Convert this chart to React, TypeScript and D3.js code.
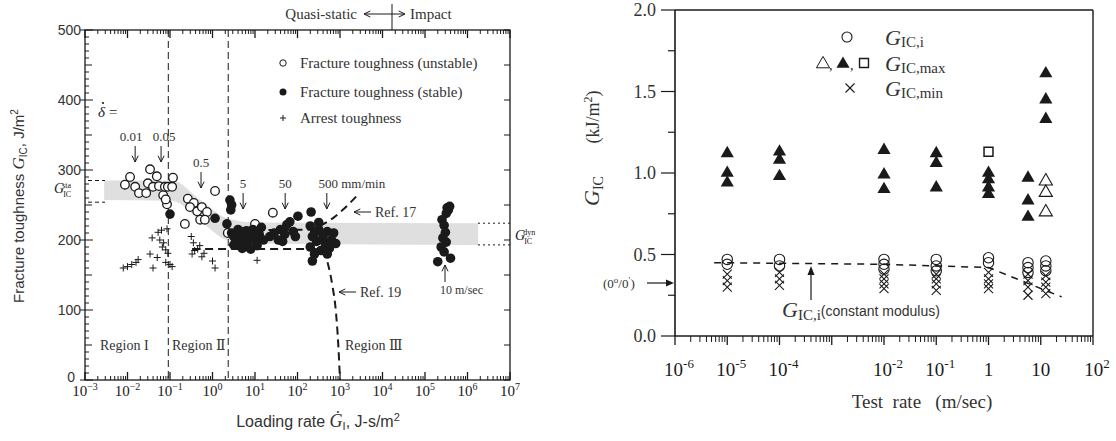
import React from 'react';
import * as d3 from 'd3';

// ---------------- Left panel data ----------------
// loading rate given as log10 exponent, G_IC in J/m^2
const leftRateExponents = [-3, -2, -1, 0, 1, 2, 3, 4, 5, 6, 7];
const leftGTicks = [0, 100, 200, 300, 400, 500];

const unstablePoints: [number, number][] = [
  [-2.06, 279], [-1.94, 290], [-1.82, 276], [-1.73, 267], [-1.56, 267], [-1.52, 281],
  [-1.47, 301], [-1.4, 276], [-1.31, 291], [-1.26, 277], [-1.16, 264], [-1.12, 276],
  [-1.07, 251], [-1.05, 276], [-0.95, 276], [-0.93, 289], [-1.1, 258], [-0.58, 259],
  [-0.44, 253], [-0.53, 247], [-0.36, 241], [-0.25, 247], [-0.13, 240], [-0.29, 229],
  [-0.18, 229], [-0.65, 223], [0.06, 270], [0.36, 210], [1.0, 223], [1.42, 239],
];

const stablePoints: [number, number][] = [
  [-1.0, 237], [0.06, 231], [0.34, 223], [0.41, 257], [0.45, 250], [0.43, 243],
  [0.45, 210], [0.5, 205], [0.55, 198], [0.6, 208], [0.65, 194], [0.7, 203], [0.75, 212],
  [0.8, 198], [0.85, 190], [0.9, 205], [0.95, 215], [1.0, 200], [1.05, 192], [1.1, 208],
  [1.15, 218], [0.6, 215], [0.7, 188], [0.8, 213], [0.5, 193], [1.2, 200], [0.9, 187],
  [1.0, 212], [1.35, 205], [1.45, 210], [1.55, 200], [1.6, 215], [1.7, 208], [1.75, 222],
  [1.82, 226], [1.9, 212], [2.01, 234], [1.95, 205], [1.65, 198],
  [2.3, 220], [2.32, 240], [2.35, 205], [2.3, 190], [2.4, 210], [2.45, 198], [2.5, 215],
  [2.55, 185], [2.6, 205], [2.65, 195], [2.7, 212], [2.75, 188], [2.8, 200], [2.85, 210],
  [2.4, 180], [2.9, 195], [2.5, 225], [2.7, 180], [2.35, 170],
  [5.55, 243], [5.5, 238], [5.4, 229], [5.45, 221], [5.48, 211], [5.42, 203], [5.38, 190],
  [5.45, 183], [5.3, 169], [5.6, 174], [5.52, 246], [5.5, 197], [5.58, 248],
];

const arrestPoints: [number, number][] = [
  [-2.1, 160], [-2.0, 162], [-1.9, 165], [-1.8, 168], [-1.75, 172], [-1.47, 180],
  [-1.42, 203], [-1.4, 160], [-1.28, 211], [-1.2, 214], [-1.24, 200], [-1.15, 196],
  [-1.18, 190], [-1.1, 186], [-1.05, 181], [-1.3, 175], [-1.1, 168], [-1.0, 165],
  [-0.95, 162], [-1.07, 216], [-0.5, 205], [-0.45, 196], [-0.3, 192], [-0.48, 180],
  [-0.42, 185], [-0.35, 187], [-0.2, 181], [-0.25, 176], [0.0, 170], [0.06, 160], [1.05, 171],
];

const bandExp = [-2.55, -0.95, -0.3, 0.35, 1.0, 6.25];
const bandLow = [257, 256, 228, 200, 195, 193];
const bandHigh = [285, 285, 258, 231, 225, 224];

const ref19Curve: [number, number][] = [
  [-0.48, 187], [2.4, 187], [2.6, 183], [2.72, 165], [2.82, 135], [2.9, 100], [2.96, 50], [3.0, 0],
];
const ref17Curve: [number, number][] = [
  [0.4, 214], [2.3, 215], [2.55, 221], [2.85, 232], [3.1, 245], [3.38, 262],
];
const regionBoundsExp = [-1.04, 0.37];

// crosshead speed markers: label, rate exponent, label row
const rateArrows: { label: string; exp: number; level: number; shift: number }[] = [
  { label: '0.01', exp: -1.82, level: 0, shift: -4 },
  { label: '0.05', exp: -1.21, level: 0, shift: 3 },
  { label: '0.5', exp: -0.27, level: 1, shift: 0 },
  { label: '5', exp: 0.72, level: 2, shift: 0 },
  { label: '50', exp: 1.71, level: 2, shift: 0 },
  { label: '500 mm/min', exp: 2.69, level: 2, shift: 25 },
];

// ---------------- Right panel data ----------------
const rightRateExponents = [-6, -5, -4, -3, -2, -1, 0, 1, 2];
const rightRateLabels = ['10|-6', '10|-5', '10|-4', '', '10|-2', '10|-1', '1', '10', '10|2'];
const rightGTicks = [0, 0.5, 1.0, 1.5, 2.0];

const gicInitPoints: [number, number][] = [
  [1e-5, 0.47], [1e-5, 0.44], [1e-4, 0.47], [1e-4, 0.43],
  [1e-2, 0.47], [1e-2, 0.44], [1e-2, 0.41], [1e-1, 0.47], [1e-1, 0.43], [1e-1, 0.40],
  [1, 0.48], [1, 0.45], [5.7, 0.45], [5.7, 0.42], [5.7, 0.39], [12.5, 0.46], [12.5, 0.43], [12.5, 0.40],
];
const gicMinPoints: [number, number][] = [
  [1e-5, 0.38], [1e-5, 0.34], [1e-5, 0.30], [1e-4, 0.39], [1e-4, 0.35], [1e-4, 0.31],
  [1e-2, 0.38], [1e-2, 0.35], [1e-2, 0.32], [1e-2, 0.29], [1e-1, 0.38], [1e-1, 0.35], [1e-1, 0.32], [1e-1, 0.28],
  [1, 0.39], [1, 0.35], [1, 0.32], [1, 0.29], [5.7, 0.38], [5.7, 0.34], [5.7, 0.30], [5.7, 0.25],
  [12.5, 0.37], [12.5, 0.33], [12.5, 0.30], [12.5, 0.26],
];
const gicMaxFilled: [number, number][] = [
  [1e-5, 1.12], [1e-5, 1.0], [1e-5, 0.94], [1e-4, 1.13], [1e-4, 1.08], [1e-4, 0.98],
  [1e-2, 1.14], [1e-2, 0.99], [1e-2, 0.9], [1e-1, 1.12], [1e-1, 1.06], [1e-1, 0.91],
  [1, 1.0], [1, 0.96], [1, 0.91], [1, 0.87], [5.7, 0.97], [5.7, 0.83], [5.7, 0.73],
  [12.5, 1.61], [12.5, 1.45], [12.5, 1.33],
];
const gicMaxOpen: [number, number][] = [[12.5, 0.95], [12.5, 0.88], [12.5, 0.76]];
const gicMaxSquare: [number, number][] = [[1, 1.13]];
const constModulusLine: [number, number][] = [[10 ** -5.25, 0.45], [1e-2, 0.44], [1, 0.42], [10 ** 1.4, 0.24]];

const INK = '#1a1a1a';
const SERIF = '"Liberation Serif", "DejaVu Serif", serif';
const SANS = '"Liberation Sans", "DejaVu Sans", sans-serif';

function Arrow({ x1, y1, x2, y2, head = 5, w = 1 }: any) {
  const a = Math.atan2(y2 - y1, x2 - x1);
  const h1 = [x2 - head * Math.cos(a - 0.45), y2 - head * Math.sin(a - 0.45)];
  const h2 = [x2 - head * Math.cos(a + 0.45), y2 - head * Math.sin(a + 0.45)];
  return (
    <g stroke={INK} strokeWidth={w} fill="none">
      <line x1={x1} y1={y1} x2={x2} y2={y2} />
      <polyline points={`${h1[0]},${h1[1]} ${x2},${y2} ${h2[0]},${h2[1]}`} />
    </g>
  );
}

function Sup({ x, y, base, sup, size = 15, supSize = 10, anchor = 'middle', font = SERIF }: any) {
  return (
    <text x={x} y={y} textAnchor={anchor} fontFamily={font} fontSize={size} fill={INK}>
      {base}
      {sup !== undefined && sup !== '' && (
        <tspan dy={-size * 0.42} fontSize={supSize}>{sup}</tspan>
      )}
    </text>
  );
}

export default function App() {
  // left scales
  const xL = d3.scaleLog().domain([1e-3, 1e7]).range([85, 510]);
  const yL = d3.scaleLinear().domain([0, 500]).range([380, 30]);
  const px = (e: number) => xL(10 ** e);

  // right scales
  const xR = d3.scaleLog().domain([1e-6, 1e2]).range([675, 1093]);
  const yR = d3.scaleLinear().domain([0, 2]).range([336, 10]);

  const bandData = bandExp.map((e, i) => ({ e, lo: bandLow[i], hi: bandHigh[i] }));
  const bandPath = d3.area<any>().x(d => px(d.e)).y0(d => yL(d.lo)).y1(d => yL(d.hi)).curve(d3.curveMonotoneX)(bandData) || '';
  const curveLine = d3.line<[number, number]>().x(d => px(d[0])).y(d => yL(d[1])).curve(d3.curveMonotoneX);
  const rLine = d3.line<[number, number]>().x(d => xR(d[0])).y(d => yR(d[1]));

  const leftMinor: number[] = [];
  for (let e = -3; e < 7; e++) for (let m = 2; m <= 9; m++) leftMinor.push(m * 10 ** e);
  const rightMinor: number[] = [];
  for (let e = -6; e < 2; e++) for (let m = 2; m <= 9; m++) rightMinor.push(m * 10 ** e);

  const gMinor = d3.range(0, 501, 10);
  const triSym = d3.symbol().type(d3.symbolTriangle).size(75)() || '';
  const sqSym = d3.symbol().type(d3.symbolSquare).size(80)() || '';

  const Xmark = ({ cx, cy, s = 4.5 }: any) => (
    <g stroke={INK} strokeWidth={1.1}>
      <line x1={cx - s} y1={cy - s} x2={cx + s} y2={cy + s} />
      <line x1={cx - s} y1={cy + s} x2={cx + s} y2={cy - s} />
    </g>
  );
  const Plus = ({ cx, cy, s = 3.5 }: any) => (
    <g stroke={INK} strokeWidth={1}>
      <line x1={cx - s} y1={cy} x2={cx + s} y2={cy} />
      <line x1={cx} y1={cy - s} x2={cx} y2={cy + s} />
    </g>
  );

  const x0 = 85, x1 = 510, yTop = 30, yBot = 380;

  return (
    <svg width={1116} height={441} style={{ position: 'absolute', left: 0, top: 0, background: '#fff' }}>
      <rect x={0} y={0} width={1116} height={441} fill="#fff" />

      {/* ================= LEFT PANEL ================= */}
      <path d={bandPath} fill="#d4d4d4" opacity={0.75} />

      {regionBoundsExp.map((e, i) => (
        <line key={i} x1={px(e)} x2={px(e)} y1={yTop} y2={yBot} stroke={INK} strokeWidth={1} strokeDasharray="7,4" />
      ))}

      <path d={curveLine(ref19Curve) || ''} fill="none" stroke={INK} strokeWidth={2} strokeDasharray="8,5" />
      <path d={curveLine(ref17Curve) || ''} fill="none" stroke={INK} strokeWidth={2} strokeDasharray="8,5" />

      {[285, 254].map((g, i) => (
        <line key={'s' + i} x1={88} x2={105} y1={yL(g)} y2={yL(g)} stroke={INK} strokeWidth={1} strokeDasharray="4,3" />
      ))}
      {[224, 193].map((g, i) => (
        <line key={'d' + i} x1={478} x2={x1} y1={yL(g)} y2={yL(g)} stroke={INK} strokeWidth={1} strokeDasharray="2,3" />
      ))}

      {arrestPoints.map((d, i) => <Plus key={'a' + i} cx={px(d[0])} cy={yL(d[1])} />)}
      {unstablePoints.map((d, i) => (
        <circle key={'u' + i} cx={px(d[0])} cy={yL(d[1])} r={4.3} fill="#fff" stroke={INK} strokeWidth={1.3} />
      ))}
      {stablePoints.map((d, i) => (
        <circle key={'f' + i} cx={px(d[0])} cy={yL(d[1])} r={4.8} fill={INK} />
      ))}

      <rect x={x0} y={yTop} width={x1 - x0} height={yBot - yTop} fill="none" stroke={INK} strokeWidth={1.3} />

      {leftMinor.map((v, i) => (
        <g key={'lm' + i} stroke={INK} strokeWidth={1}>
          <line x1={xL(v)} x2={xL(v)} y1={yBot} y2={yBot - 4} />
          <line x1={xL(v)} x2={xL(v)} y1={yTop} y2={yTop + 4} />
        </g>
      ))}
      {leftRateExponents.map((e, i) => (
        <g key={'lM' + i}>
          <line x1={px(e)} x2={px(e)} y1={yBot} y2={yBot - 8} stroke={INK} strokeWidth={1.3} />
          <line x1={px(e)} x2={px(e)} y1={yTop} y2={yTop + 8} stroke={INK} strokeWidth={1.3} />
          <Sup x={px(e)} y={396} base="10" sup={e < 0 ? '\u2212' + -e : String(e)} size={15} supSize={10} />
        </g>
      ))}

      {gMinor.map((g, i) => {
        const big = g % 100 === 0;
        const mid = g % 50 === 0;
        return (
          <g key={'gy' + i} stroke={INK} strokeWidth={1}>
            <line x1={big ? x0 - 5 : x0} x2={x0 + (big ? 8 : mid ? 7 : 4)} y1={yL(g)} y2={yL(g)} />
            {mid && <line x1={x1} x2={x1 - 6} y1={yL(g)} y2={yL(g)} />}
          </g>
        );
      })}
      {leftGTicks.map((g, i) => (
        <text key={'gl' + i} x={g === 0 ? 75 : 81} y={yL(g) + (g === 0 ? 2 : 5)} textAnchor="end" fontFamily={SANS} fontSize={14} fill="#333">{g}</text>
      ))}

      <text transform="translate(24,206) rotate(-90)" textAnchor="middle" fontFamily={SANS} fontSize={15} fill="#333">
        Fracture toughness <tspan fontStyle="italic" fontFamily={SERIF} fontSize={17}>G</tspan>
        <tspan fontSize={10} dy={3}>IC</tspan><tspan dy={-3}>, J/m</tspan><tspan fontSize={10} dy={-6}>2</tspan>
      </text>
      <text x={318} y={427} textAnchor="middle" fontFamily={SANS} fontSize={16} fill="#333">
        Loading rate <tspan fontStyle="italic" fontFamily={SERIF} fontSize={18}>{'G\u0307'}</tspan>
        <tspan fontSize={11} dy={3}>I</tspan><tspan dy={-3}>, J-s/m</tspan><tspan fontSize={11} dy={-6}>2</tspan>
      </text>

      <text x={54} y={193} fontFamily={SERIF} fontStyle="italic" fontSize={14} fill={INK}>G
        <tspan fontSize={8} fontStyle="normal" dy={4} dx={-1}>IC</tspan>
        <tspan fontSize={8} fontStyle="normal" dy={-9} dx={-9}>sta</tspan>
      </text>
      <text x={515} y={240} fontFamily={SERIF} fontStyle="italic" fontSize={14} fill={INK}>G
        <tspan fontSize={8} fontStyle="normal" dy={4} dx={-1}>IC</tspan>
        <tspan fontSize={8} fontStyle="normal" dy={-9} dx={-9}>dyn</tspan>
      </text>

      <text x={98} y={117} fontFamily={SERIF} fontStyle="italic" fontSize={15} fill={INK}>δ</text>
      <circle cx={103} cy={103} r={1.1} fill={INK} />
      <text x={109} y={117} fontFamily={SERIF} fontSize={15} fill={INK}>=</text>

      {rateArrows.map((r, i) => {
        const ty = [141, 167, 188][r.level];
        const ax = px(r.exp);
        return (
          <g key={'ra' + i}>
            <text x={ax + r.shift} y={ty} textAnchor="middle" fontFamily={SERIF} fontSize={13} fill="#333">{r.label}</text>
            <Arrow x1={ax} y1={ty + 5} x2={ax} y2={ty + 21} head={7} w={1} />
          </g>
        );
      })}

      <Arrow x1={371} y1={212} x2={354} y2={212} head={7} />
      <text x={375} y={217} fontFamily={SERIF} fontSize={14} fill="#333">Ref. 17</text>
      <Arrow x1={356} y1={292} x2={339} y2={292} head={7} />
      <text x={360} y={297} fontFamily={SERIF} fontSize={14} fill="#333">Ref. 19</text>
      <Arrow x1={445} y1={282} x2={445} y2={265} head={7} />
      <text x={440} y={294} fontFamily={SERIF} fontSize={12} fill="#333">10 m/sec</text>

      <text x={100} y={350} fontFamily={SERIF} fontSize={14} fill="#333">Region I</text>
      <text x={172} y={350} fontFamily={SERIF} fontSize={14} fill="#333">Region Ⅱ</text>
      <text x={345} y={350} fontFamily={SERIF} fontSize={14} fill="#333">Region Ⅲ</text>

      <circle cx={283} cy={63} r={3.2} fill="#fff" stroke={INK} strokeWidth={1} />
      <circle cx={283} cy={92} r={3.5} fill={INK} />
      <Plus cx={283} cy={118} s={3} />
      <text x={300} y={68} fontFamily={SERIF} fontSize={15} fill="#333">Fracture toughness (unstable)</text>
      <text x={300} y={97} fontFamily={SERIF} fontSize={15} fill="#333">Fracture toughness (stable)</text>
      <text x={300} y={123} fontFamily={SERIF} fontSize={15} fill="#333">Arrest toughness</text>

      <text x={357} y={19} textAnchor="end" fontFamily={SERIF} fontSize={15} fill="#333">Quasi-static</text>
      <Arrow x1={384} y1={14} x2={364} y2={14} head={7} />
      <Arrow x1={384} y1={14} x2={405} y2={14} head={7} />
      <line x1={392} x2={392} y1={4} y2={yTop} stroke={INK} strokeWidth={1} />
      <text x={410} y={19} fontFamily={SERIF} fontSize={15} fill="#333">Impact</text>

      {/* ================= RIGHT PANEL ================= */}
      <path d={rLine(constModulusLine) || ''} fill="none" stroke={INK} strokeWidth={1.5} strokeDasharray="7,6" />

      {gicMinPoints.map((d, i) => <Xmark key={'x' + i} cx={xR(d[0])} cy={yR(d[1])} />)}
      {gicInitPoints.map((d, i) => (
        <circle key={'c' + i} cx={xR(d[0])} cy={yR(d[1])} r={5.2} fill="none" stroke={INK} strokeWidth={1.1} />
      ))}
      {gicMaxFilled.map((d, i) => (
        <path key={'t' + i} d={triSym} transform={`translate(${xR(d[0])},${yR(d[1])})`} fill={INK} />
      ))}
      {gicMaxOpen.map((d, i) => (
        <path key={'to' + i} d={triSym} transform={`translate(${xR(d[0])},${yR(d[1])})`} fill="#fff" stroke={INK} strokeWidth={1.1} />
      ))}
      {gicMaxSquare.map((d, i) => (
        <path key={'sq' + i} d={sqSym} transform={`translate(${xR(d[0])},${yR(d[1])})`} fill="#fff" stroke={INK} strokeWidth={1.5} />
      ))}

      <line x1={675} x2={1093} y1={10} y2={10} stroke={INK} strokeWidth={1.4} />
      <line x1={1093} x2={1093} y1={10} y2={336} stroke={INK} strokeWidth={1.4} />
      <line x1={675} x2={675} y1={10} y2={336} stroke={INK} strokeWidth={1.6} />
      <line x1={675} x2={1093} y1={336} y2={336} stroke={INK} strokeWidth={1.6} />

      {d3.range(0, 2.01, 0.25).map((g, i) => (
        <line key={'ry' + i} x1={i % 2 === 0 ? 661 : 668} x2={675} y1={yR(g)} y2={yR(g)} stroke={INK} strokeWidth={1.2} />
      ))}
      {rightGTicks.map((g, i) => (
        <text key={'ryl' + i} x={656} y={yR(g) + 6} textAnchor="end" fontFamily={SERIF} fontSize={18} fill="#333">{g.toFixed(1)}</text>
      ))}
      {rightMinor.map((v, i) => (
        <line key={'rxm' + i} x1={xR(v)} x2={xR(v)} y1={336} y2={342} stroke={INK} strokeWidth={1} />
      ))}
      {rightRateExponents.map((e, i) => {
        const [b, s] = rightRateLabels[i].split('|');
        return (
          <g key={'rx' + i}>
            <line x1={xR(10 ** e)} x2={xR(10 ** e)} y1={336} y2={345} stroke={INK} strokeWidth={1.3} />
            {b && <Sup x={xR(10 ** e) + (s ? 4 : 0)} y={376} base={b} sup={s || ''} size={19} supSize={13} />}
          </g>
        );
      })}

      <text transform="translate(599,191) rotate(-90)" textAnchor="middle" fontFamily={SERIF} fill="#333">
        <tspan fontStyle="italic" fontSize={22}>G</tspan><tspan fontSize={14} dy={4}>IC</tspan>
      </text>
      <text transform="translate(599,117) rotate(-90)" textAnchor="middle" fontFamily={SERIF} fontSize={18} fill="#333">
        (kJ/m<tspan fontSize={12} dy={-7}>2</tspan><tspan dy={7}>)</tspan>
      </text>
      <text x={922} y={408} textAnchor="middle" fontFamily={SERIF} fontSize={19} fill="#333" style={{ whiteSpace: 'pre' }}>
        Test  rate   (m/sec)
      </text>

      <text x={603} y={288} fontFamily={SERIF} fontSize={13} fill="#333">
        (0<tspan fontSize={9} dy={-5}>o</tspan><tspan dy={5}>/0</tspan><tspan fontSize={9} dy={-5}>′</tspan><tspan dy={5}>)</tspan>
      </text>
      <line x1={647} x2={670} y1={283} y2={283} stroke={INK} strokeWidth={1.2} />
      <path d="M 674 283 L 666 279.5 L 666 286.5 Z" fill={INK} />

      <line x1={811} x2={811} y1={300} y2={272} stroke={INK} strokeWidth={1.2} />
      <path d="M 811 266 L 807.5 275 L 814.5 275 Z" fill={INK} />
      <text x={782} y={317} fontFamily={SERIF} fill="#333">
        <tspan fontStyle="italic" fontSize={22}>G</tspan><tspan fontSize={15} dy={3}>IC,i</tspan>
        <tspan fontSize={14} dy={-4} fontFamily={SANS}>(constant modulus)</tspan>
      </text>

      <circle cx={847} cy={37} r={5} fill="none" stroke={INK} strokeWidth={1.1} />
      <path d={triSym} transform="translate(823,64)" fill="#fff" stroke={INK} strokeWidth={1} />
      <text x={829} y={70} fontFamily={SERIF} fontSize={14} fill={INK}>,</text>
      <path d={triSym} transform="translate(843,64)" fill={INK} />
      <text x={850} y={70} fontFamily={SERIF} fontSize={14} fill={INK}>,</text>
      <path d={sqSym} transform="translate(864,63)" fill="#fff" stroke={INK} strokeWidth={1.4} />
      <Xmark cx={850} cy={88} s={4.5} />
      {[['IC,i', 45], ['IC,max', 71], ['IC,min', 96]].map(([s, y], i) => (
        <text key={'lg' + i} x={885} y={y as number} fontFamily={SERIF} fill="#333">
          <tspan fontStyle="italic" fontSize={22}>G</tspan><tspan fontSize={15} dy={2}>{s}</tspan>
        </text>
      ))}
    </svg>
  );
}
